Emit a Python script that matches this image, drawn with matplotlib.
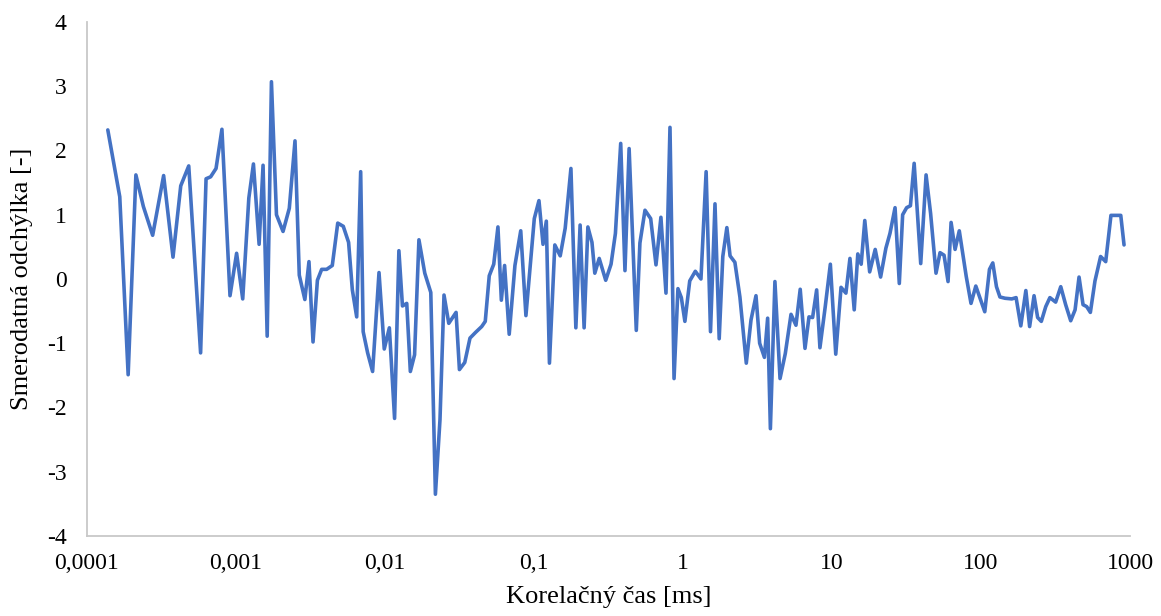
import matplotlib
matplotlib.use("Agg")
import matplotlib.pyplot as plt
from matplotlib.ticker import FixedLocator, NullLocator

plt.rcParams['font.family'] = ['Liberation Serif', 'DejaVu Serif']

# correlation time [ms]
tau = [1.38e-4, 1.66e-4, 1.89e-4, 2.13e-4, 2.39e-4, 2.76e-4, 3.27e-4, 3.78e-4, 4.26e-4, 4.82e-4,
       5.79e-4, 6.30e-4, 6.76e-4, 7.35e-4, 8.05e-4, 9.12e-4, 1.01e-3, 1.11e-3, 1.22e-3, 1.31e-3,
       1.43e-3, 1.52e-3, 1.62e-3, 1.73e-3, 1.87e-3, 2.07e-3, 2.28e-3, 2.49e-3, 2.66e-3, 2.90e-3,
       3.09e-3, 3.29e-3, 3.52e-3, 3.76e-3, 4.06e-3, 4.43e-3, 4.82e-3, 5.25e-3, 5.70e-3, 6.04e-3,
       6.46e-3, 6.87e-3, 7.14e-3, 7.65e-3, 8.26e-3, 9.12e-3, 9.89e-3, 1.07e-2, 1.16e-2, 1.24e-2,
       1.31e-2, 1.40e-2, 1.48e-2, 1.58e-2, 1.69e-2, 1.85e-2, 2.03e-2, 2.18e-2, 2.34e-2, 2.49e-2,
       2.68e-2, 3.00e-2, 3.16e-2, 3.43e-2, 3.72e-2, 4.06e-2, 4.46e-2, 4.71e-2, 5.01e-2, 5.37e-2,
       5.73e-2, 6.04e-2, 6.35e-2, 6.82e-2, 7.45e-2, 8.15e-2, 8.83e-2, 0.1005, 0.108, 0.115,
       0.121, 0.127, 0.138, 0.150, 0.162, 0.177, 0.191, 0.204, 0.217, 0.230,
       0.245, 0.256, 0.274, 0.303, 0.329, 0.352, 0.382, 0.408, 0.435, 0.486,
       0.514, 0.556, 0.607, 0.659, 0.711, 0.769, 0.818, 0.871, 0.925, 0.975,
       1.03, 1.11, 1.21, 1.32, 1.43, 1.53, 1.64, 1.75, 1.85, 1.97,
       2.07, 2.23, 2.41, 2.66, 2.86, 3.09, 3.27, 3.52, 3.70, 3.86,
       4.14, 4.48, 4.86, 5.31, 5.73, 6.12, 6.59, 7.01, 7.41, 7.89,
       8.30, 9.01, 9.75, 10.6, 11.5, 12.4, 13.2, 14.1, 14.9, 15.7,
       16.6, 17.9, 19.5, 21.2, 23.0, 24.5, 26.5, 28.3, 29.8, 31.7,
       33.6, 35.6, 39.4, 42.8, 45.9, 49.9, 53.1, 56.5, 60.1, 63.0,
       67.0, 71.5, 79.6, 85.7, 92.3, 106, 114, 120, 127, 134,
       145, 161, 172, 185, 200, 212, 227, 240, 254, 272,
       290, 317, 343, 370, 400, 428, 455, 484, 512, 542,
       582, 635, 687, 745, 867, 912]

# standard deviation [-]
odchylka = [2.32, 1.28, -1.49, 1.62, 1.13, 0.68, 1.61, 0.34, 1.45, 1.76,
            -1.15, 1.56, 1.59, 1.72, 2.33, -0.26, 0.40, -0.31, 1.26, 1.79,
            0.54, 1.77, -0.89, 3.07, 1.00, 0.74, 1.10, 2.15, 0.06, -0.32,
            0.27, -0.98, -0.02, 0.15, 0.15, 0.21, 0.87, 0.82, 0.57, -0.17,
            -0.59, 1.67, -0.82, -1.15, -1.44, 0.10, -1.09, -0.76, -2.17, 0.44,
            -0.42, -0.38, -1.44, -1.18, 0.61, 0.09, -0.21, -3.35, -2.19, -0.25,
            -0.69, -0.52, -1.41, -1.30, -0.92, -0.83, -0.74, -0.66, 0.05, 0.23,
            0.81, -0.33, 0.21, -0.86, 0.21, 0.75, -0.57, 0.94, 1.22, 0.54,
            0.90, -1.31, 0.53, 0.36, 0.79, 1.72, -0.76, 0.84, -0.76, 0.81,
            0.57, 0.09, 0.32, -0.02, 0.23, 0.71, 2.11, 0.13, 2.03, -0.80,
            0.56, 1.07, 0.94, 0.22, 0.96, -0.22, 2.36, -1.55, -0.15, -0.29,
            -0.66, -0.03, 0.12, 0.00, 1.67, -0.82, 1.17, -0.93, 0.35, 0.80,
            0.36, 0.26, -0.28, -1.31, -0.64, -0.26, -1.00, -1.22, -0.61, -2.33,
            -0.04, -1.55, -1.16, -0.55, -0.72, -0.16, -1.08, -0.59, -0.60, -0.17,
            -1.07, -0.43, 0.23, -1.17, -0.13, -0.22, 0.32, -0.48, 0.39, 0.23,
            0.91, 0.11, 0.46, 0.03, 0.48, 0.71, 1.11, -0.07, 1.00, 1.11,
            1.14, 1.80, 0.24, 1.62, 1.02, 0.09, 0.41, 0.37, -0.04, 0.88,
            0.46, 0.75, 0.04, -0.38, -0.11, -0.51, 0.15, 0.25, -0.12, -0.28,
            -0.30, -0.31, -0.29, -0.73, -0.18, -0.74, -0.26, -0.60, -0.66, -0.43,
            -0.29, -0.36, -0.12, -0.40, -0.65, -0.48, 0.03, -0.40, -0.43, -0.52,
            -0.03, 0.35, 0.27, 0.99, 0.99, 0.53]

x_ticks = [1e-4, 1e-3, 1e-2, 1e-1, 1, 10, 100, 1000]
x_tick_labels = ['0,0001', '0,001', '0,01', '0,1', '1', '10', '100', '1000']
y_ticks = [-4, -3, -2, -1, 0, 1, 2, 3, 4]

fig = plt.figure(figsize=(11.61, 6.16), dpi=100)
ax = fig.add_axes([0.0749, 0.1299, 0.8984, 0.8344])

ax.plot(tau, odchylka, color='#4472C4', linewidth=2.6, solid_joinstyle='round', solid_capstyle='round')

ax.set_xscale('log')
ax.set_xlim(1e-4, 1000)
ax.set_ylim(-4, 4)
ax.xaxis.set_major_locator(FixedLocator(x_ticks))
ax.xaxis.set_minor_locator(NullLocator())
ax.set_xticks(x_ticks)
ax.set_xticklabels(x_tick_labels)
ax.set_yticks(y_ticks)
ax.set_yticklabels([str(v) for v in y_ticks])
ax.tick_params(axis='both', length=0, labelsize=17, colors='black')
ax.tick_params(axis='x', pad=12)
ax.tick_params(axis='y', pad=14.5)

for side in ['top', 'right']:
    ax.spines[side].set_visible(False)
for side in ['left', 'bottom']:
    ax.spines[side].set_color('#C8C8C8')
    ax.spines[side].set_linewidth(1.3)

ax.set_xlabel('Korelačný čas [ms]', fontsize=19, labelpad=9)
ax.set_ylabel('Smerodatná odchýlka [-]', fontsize=19, labelpad=10)

fig.savefig('out.png', dpi=100)
